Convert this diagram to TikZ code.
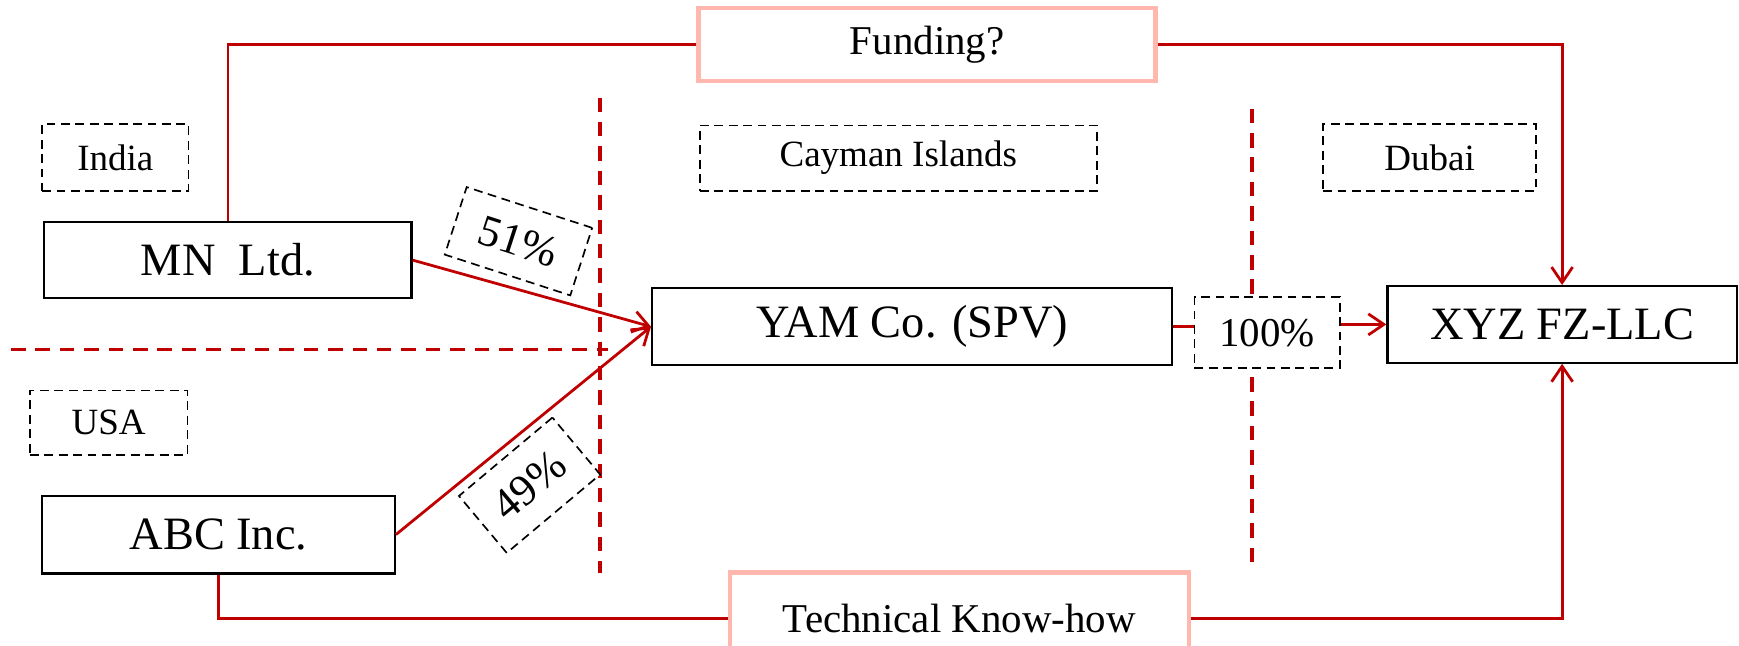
\documentclass[tikz,border=0pt]{standalone}
\usepackage{fontspec}
\setmainfont{Liberation Serif}
\usetikzlibrary{arrows.meta}
\definecolor{dred}{RGB}{192,0,0}
\definecolor{pinkb}{RGB}{255,183,174}
\tikzset{
 entity/.style={draw=black, line width=0.2mm, fill=white, inner sep=0pt, font=\fontsize{11.9pt}{13pt}\selectfont},
 region/.style={draw=black, line width=0.15mm, dash pattern=on 0.8mm off 0.5mm, fill=white, inner sep=0pt, font=\fontsize{9.5pt}{11pt}\selectfont},
 share/.style={region, font=\fontsize{10.5pt}{12pt}\selectfont},
 tiltshare/.style={region, font=\fontsize{11.3pt}{13pt}\selectfont},
 flowbox/.style={draw=pinkb, line width=0.4mm, fill=white, inner sep=0pt, font=\fontsize{10.5pt}{12pt}\selectfont},
 border/.style={draw=dred, line width=0.3mm, dash pattern=on 1.3mm off 0.9mm},
 link/.style={draw=dred, line width=0.25mm},
 arr/.style={link, -{Straight Barb[length=1.4mm, width=1.9mm, line width=0.25mm]}}
}
\begin{document}
\begin{tikzpicture}[x=0.1mm,y=-0.1mm]
\useasboundingbox (0,0) rectangle (1568,582);
% jurisdiction borders
\coordinate (v1t) at (541,88);
\coordinate (v1b) at (541,517);
\coordinate (v2t) at (1129,98);
\coordinate (v2b) at (1129,515);
\coordinate (h1l) at (10,315);
\coordinate (h1r) at (548,315);
\draw[border] (v1t) -- (v1b);
\draw[border] (v2t) -- (v2b);
\draw[border] (h1l) -- (h1r);
% nodes
\node[flowbox, minimum width=41.2mm, minimum height=6.6mm] (fund) at (836,40) {Funding?};
\node[region, minimum width=13.2mm, minimum height=6mm] (india) at (104,142) {India};
\node[entity, minimum width=33.1mm, minimum height=6.9mm] (mn) at (205.5,234.5) {MN\ \ Ltd.};
\node[region, minimum width=35.8mm, minimum height=5.9mm] (cayman) at (810,142.5) {Cayman Islands};
\node[region, minimum width=19.2mm, minimum height=6mm] (dubai) at (1289,142) {Dubai};
\node[tiltshare, minimum width=11.9mm, minimum height=6.4mm, rotate=-18] (p51) at (467.5,217.5) {51\%};
\node[entity, minimum width=46.9mm, minimum height=6.9mm] (yam) at (822.5,294.5) {YAM Co. (SPV)};
\node[share, minimum width=13.1mm, minimum height=6.4mm] (p100) at (1142.5,300) {100\%};
\node[entity, minimum width=31.5mm, minimum height=6.9mm] (xyz) at (1408.5,292.5) {XYZ FZ-LLC};
\node[region, minimum width=14.2mm, minimum height=5.8mm] (usa) at (98,381) {USA};
\node[entity, minimum width=31.8mm, minimum height=7mm] (abc) at (197,482) {ABC Inc.};
\node[tiltshare, minimum width=11mm, minimum height=6.7mm, rotate=40] (p49) at (477.5,437.5) {49\%};
\node[flowbox, minimum width=41.4mm, minimum height=8.4mm] (tech) at (865,558) {Technical Know-how};
% connectors
\draw[arr] (mn.east) -- (yam.west);
\draw[arr] (abc.east) -- (yam.west);
\draw[link] (yam.east) -- (yam.east -| p100.west);
\draw[arr] (p100.east |- xyz.west) -- (xyz.west);
\draw[link] (mn.north) |- (fund.west);
\draw[arr] (fund.east) -| (xyz.north);
\draw[link] (abc.south) |- (tech.west);
\draw[arr] (tech.east) -| (xyz.south);
\end{tikzpicture}
\end{document}
